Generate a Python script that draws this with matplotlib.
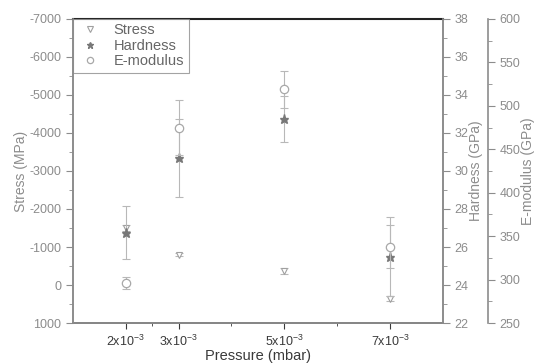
import matplotlib
matplotlib.use("Agg")
import matplotlib.pyplot as plt
from matplotlib.ticker import MultipleLocator, FixedLocator

plt.rcParams['font.family'] = ['Liberation Sans', 'DejaVu Sans']
plt.rcParams['axes.unicode_minus'] = False
plt.rcParams['mathtext.fontset'] = 'custom'
plt.rcParams['mathtext.rm'] = 'Liberation Sans'

# data (pressure in units of 1e-3 mbar)
pressure = [2, 3, 5, 7]
tick_labels = [r'2x10$^{-3}$', r'3x10$^{-3}$', r'5x10$^{-3}$', r'7x10$^{-3}$']
stress = [-1500, -800, -370, 360]
stress_err = [80, 40, 90, 60]
hardness = [26.75, 30.7, 32.75, 25.5]
hardness_err = [1.4, 2.05, 1.2, 2.1]
emod = [296, 475, 519, 338]
emod_err = [7, 32, 21, 25]

grey = '#8c8c8c'
dark = '#3a3a3a'

fig = plt.figure(figsize=(5.36, 3.63), dpi=100)
ax = fig.add_axes([0.136, 0.110, 0.690, 0.838])
ax2 = ax.twinx()
ax3 = ax.twinx()
ax3.spines['right'].set_position(('axes', 1.1216))

eb = dict(fmt='none', ecolor='#b8b8b8', elinewidth=0.8, capsize=3, capthick=0.8)
ax.errorbar(pressure, stress, yerr=stress_err, **eb)
ax2.errorbar(pressure, hardness, yerr=hardness_err, **eb)
ax3.errorbar(pressure, emod, yerr=emod_err, **eb)

h1, = ax.plot(pressure, stress, 'v', ls='none', ms=5, mfc='white', mec='#a0a0a0', mew=0.8, label='Stress')
h2, = ax2.plot(pressure, hardness, '*', ls='none', ms=6.5, mfc='#787878', mec='#787878', label='Hardness')
h3, = ax3.plot(pressure, emod, 'o', ls='none', ms=6, mfc='white', mec='#a8a8a8', mew=0.9, label='E-modulus')

ax.set_xlim(1, 8)
ax.set_ylim(1000, -7000)
ax2.set_ylim(22, 38)
ax3.set_ylim(250, 600)

ax.xaxis.set_major_locator(FixedLocator(pressure))
ax.set_xticklabels(tick_labels)
ax.xaxis.set_minor_locator(FixedLocator([2.5, 4, 6]))
ax.yaxis.set_major_locator(MultipleLocator(1000))
ax.yaxis.set_minor_locator(MultipleLocator(500))
ax2.yaxis.set_major_locator(MultipleLocator(2))
ax2.yaxis.set_minor_locator(MultipleLocator(1))
ax3.yaxis.set_major_locator(MultipleLocator(50))
ax3.yaxis.set_minor_locator(MultipleLocator(25))

for a in (ax, ax2, ax3):
    for s in a.spines.values():
        s.set_color(grey)
        s.set_linewidth(1.2)
ax.spines['top'].set_color('#222222')
ax.spines['top'].set_linewidth(1.5)
ax.spines['bottom'].set_color('#555555')
ax3.spines['left'].set_visible(False)
ax3.spines['top'].set_visible(False)
ax3.spines['bottom'].set_visible(False)
ax2.spines['top'].set_visible(False)

ax.tick_params(axis='y', which='major', direction='out', length=5, color=grey, labelcolor=grey, labelsize=9)
ax.tick_params(axis='y', which='minor', direction='out', length=3, color=grey)
ax.tick_params(axis='x', which='major', direction='out', length=4, color=dark, labelcolor=dark, labelsize=9)
ax.tick_params(axis='x', which='minor', direction='out', length=2.5, color=dark)
for a in (ax2, ax3):
    a.tick_params(axis='y', which='major', direction='out', length=5, color=grey, labelcolor=grey, labelsize=9)
    a.tick_params(axis='y', which='minor', direction='out', length=3, color=grey)

ax.set_xlabel('Pressure (mbar)', fontsize=10.5, color=dark, labelpad=0)
ax.set_ylabel('Stress (MPa)', fontsize=10, color=grey, labelpad=1)
ax2.set_ylabel('Hardness (GPa)', fontsize=10, color=grey, labelpad=0)
ax3.set_ylabel('E-modulus (GPa)', fontsize=10, color=grey, labelpad=0)

leg = ax.legend(handles=[h1, h2, h3], loc='upper left', fontsize=10.5, frameon=True,
                fancybox=False, borderaxespad=0, handletextpad=0.7, markerscale=0.75,
                borderpad=0.3, labelspacing=0.1, handlelength=1.8)
leg.get_frame().set_edgecolor(grey)
leg.get_frame().set_linewidth(0.8)
for t in leg.get_texts():
    t.set_color('#666666')

fig.savefig('out.png', dpi=100)
